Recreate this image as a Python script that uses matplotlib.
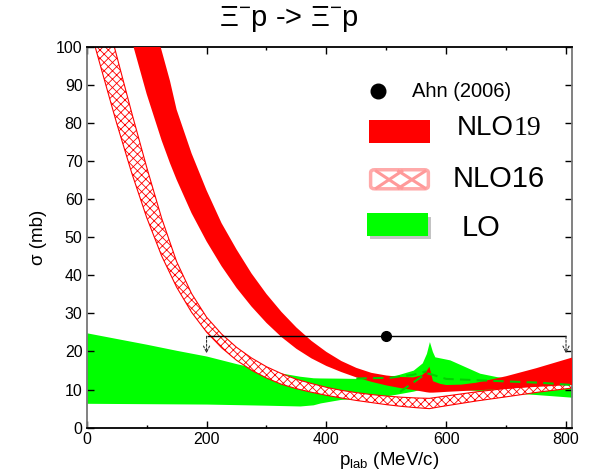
import matplotlib
matplotlib.use("Agg")
import matplotlib.pyplot as plt
from matplotlib.patches import Rectangle, FancyBboxPatch
import numpy as np

plt.rcParams["font.family"] = ["Liberation Sans", "DejaVu Sans"]
plt.rcParams["mathtext.fontset"] = "custom"
plt.rcParams["mathtext.rm"] = "Liberation Sans"
plt.rcParams["mathtext.it"] = "Liberation Sans:italic"
plt.rcParams["hatch.linewidth"] = 0.6

# NLO19 band (red)
nlo19_x = [60, 78, 100, 125, 139, 150, 175, 200, 225, 250, 275, 300, 325, 350,
           375, 400, 425, 450, 475, 500, 525, 545, 560, 567, 572, 578, 590,
           600, 625, 650, 700, 750, 810]
nlo19_lo = [111.3, 100, 87.6, 75.4, 69.4, 65.1, 56.3, 48.9, 42.4, 36.7, 31.8,
            27.5, 23.8, 20.7, 18.2, 16.2, 14.6, 13.2, 12.05, 11.1, 10.35, 9.9,
            9.5, 9.3, 9.2, 9.2, 9.3, 9.4, 9.6, 9.8, 10.2, 10.7, 11.2]
nlo19_hi = [139, 127, 112.6, 99, 91, 83.5, 72.0, 62.3, 53.7, 46.8, 40.5, 35.1,
            30.4, 26.3, 22.8, 19.9, 17.5, 15.7, 14.4, 13.7, 13.3, 13.2, 13.8,
            14.8, 16.0, 12.2, 11.5, 11.2, 11.3, 11.8, 13.5, 15.6, 18.4]

# NLO16 band (hatched)
nlo16_x = [0, 14, 25, 46, 50, 75, 100, 125, 150, 175, 200, 225, 250, 275, 300,
           325, 350, 375, 400, 425, 450, 475, 500, 525, 550, 572, 590, 650,
           700, 757, 810]
nlo16_lo = [108, 100, 93.8, 82.1, 79.9, 66.9, 55.2, 45.1, 36.9, 30.3, 25.1,
            21.0, 17.7, 15.1, 13.05, 11.4, 10.24, 9.3, 8.5, 7.8, 7.15, 6.6,
            6.05, 5.6, 5.25, 5.0, 5.5, 7.0, 8.1, 9.4, 10.4]
nlo16_hi = [128, 112.7, 106, 100, 97.6, 82.7, 68.4, 55.0, 43.6, 35.2, 29.0,
            24.6, 21.1, 18.3, 16.0, 14.2, 12.7, 11.6, 10.6, 9.8, 9.2, 8.7,
            8.3, 8.0, 7.8, 7.7, 8.1, 9.4, 10.3, 11.2, 11.8]

# LO band (green)
lo_x = [0, 50, 100, 150, 200, 250, 300, 356, 378, 390, 423, 462, 490, 517,
        545, 560, 567, 572, 577, 581, 606, 656, 684, 750, 810]
lo_lo = [6.4, 6.35, 6.3, 6.25, 6.2, 6.05, 5.9, 5.7, 6.0, 6.5, 7.4, 7.8, 8.1,
         8.8, 9.6, 10.2, 10.6, 11.0, 10.8, 10.6, 10.3, 9.7, 9.4, 8.7, 8.0]
lo_hi = [24.9, 23.4, 21.9, 20.3, 18.8, 16.8, 15.0, 13.5, 13.1, 13.05, 13.0,
         12.9, 13.2, 13.8, 15.1, 17.0, 19.5, 22.6, 20.0, 18.6, 17.8, 14.3,
         13.4, 12.0, 10.8]

# green dashed curve
dash_a_x = [450, 506, 545, 567]
dash_a_y = [12.9, 13.1, 13.9, 14.8]
dash_b_x = [523, 567, 575, 600, 645, 757, 810]
dash_b_y = [9.4, 14.3, 14.0, 12.8, 12.5, 11.8, 11.2]

# Ahn (2006) data point with momentum range
ahn_x = [500]
ahn_y = [24]
ahn_xmin = [200]
ahn_xmax = [800]
ahn_ylow = 19.5

fig = plt.figure(figsize=(5.9, 4.73), dpi=100)
ax = fig.add_axes([0.147, 0.0958, 0.8225, 0.8055])

ax.fill_between(lo_x, lo_lo, lo_hi, color="#00ff00", linewidth=0, zorder=1)
ax.fill_between(nlo16_x, nlo16_lo, nlo16_hi, facecolor="white",
                edgecolor="red", hatch="xxxx", linewidth=0, zorder=2)
ax.plot(nlo16_x, nlo16_lo, color="red", lw=0.8, zorder=2.1)
ax.plot(nlo16_x, nlo16_hi, color="red", lw=0.8, zorder=2.1)
ax.fill_between(nlo19_x, nlo19_lo, nlo19_hi, color="#ff0000", linewidth=0, zorder=3)
ax.plot(dash_a_x, dash_a_y, color="#00d000", lw=1.5, ls=(0, (5, 3)), zorder=4)
ax.plot(dash_b_x, dash_b_y, color="#00d000", lw=1.5, ls=(0, (5, 3)), zorder=4)

ax.hlines(ahn_y, ahn_xmin, ahn_xmax, color="black", lw=1.0, zorder=5)
for xm in ahn_xmin + ahn_xmax:
    ax.annotate("", xy=(xm, ahn_ylow), xytext=(xm, ahn_y[0]),
                arrowprops=dict(arrowstyle="->", ls=(0, (2, 1.5)), lw=0.8,
                                color="#333333", shrinkA=0, shrinkB=0,
                                mutation_scale=11), zorder=5)
ax.plot(ahn_x, ahn_y, "o", color="black", ms=7, zorder=6)

ax.set_xlim(0, 810)
ax.set_ylim(0, 100)
ax.set_xticks([0, 200, 400, 600, 800])
ax.set_xticks([100, 300, 500, 700], minor=True)
ax.set_yticks(np.arange(0, 101, 10))
ax.tick_params(which="both", direction="in", top=True, right=True,
               labelsize=11.5, width=1.0)
ax.tick_params(which="major", length=5)
ax.tick_params(which="minor", length=2.5)
ax.tick_params(axis="y", pad=3)
ax.tick_params(axis="x", pad=3)
for side in ["left", "right"]:
    ax.spines[side].set_color("#777777")
    ax.spines[side].set_linewidth(1.3)
for side in ["top", "bottom"]:
    ax.spines[side].set_color("black")
    ax.spines[side].set_linewidth(1.3)

ax.set_xlabel(r"p$_{\rm lab}$ (MeV/c)", fontsize=13.5)
ax.xaxis.set_label_coords(0.623, -0.058)
ax.set_ylabel("σ (mb)", fontsize=13.5)
ax.yaxis.set_label_coords(-0.082, 0.5)

fig.text(0.489, 0.945, r"$\Xi^{-}$p -> $\Xi^{-}$p", fontsize=21,
         ha="center", va="baseline")

# hand-made legend
T = ax.transAxes
ax.plot([0.601], [0.883], "o", color="black", ms=10.5, transform=T,
        clip_on=False, zorder=7)
ax.text(0.670, 0.883, "Ahn (2006)", transform=T, fontsize=14.5,
        va="center", ha="left")

ax.add_patch(Rectangle((0.582, 0.748), 0.125, 0.059, transform=T,
                       facecolor="#ff0000", edgecolor="none", zorder=7))
t19 = ax.text(0.762, 0.786, "NLO", transform=T, fontsize=20,
              va="center", ha="left")
ax.annotate("19", xy=(1, 0), xycoords=t19, fontsize=20, va="bottom",
            ha="left", family="Liberation Serif")

ax.add_patch(FancyBboxPatch((0.585, 0.627), 0.119, 0.050, transform=T,
                            boxstyle="round,pad=0.0,rounding_size=0.008",
                            facecolor="white", edgecolor="#ffaaaa", lw=2.5,
                            zorder=7))
for x0, x1 in [(0.597, 0.649), (0.643, 0.697)]:
    ax.plot([x0, x1], [0.673, 0.629], color="#ff9999", lw=2.2, transform=T, zorder=8)
    ax.plot([x0, x1], [0.629, 0.673], color="#ff9999", lw=2.2, transform=T, zorder=8)
ax.text(0.755, 0.653, "NLO16", transform=T, fontsize=21, va="center", ha="left")

ax.add_patch(Rectangle((0.583, 0.494), 0.126, 0.060, transform=T,
                       facecolor="#888888", alpha=0.5, edgecolor="none", zorder=7))
ax.add_patch(Rectangle((0.577, 0.504), 0.126, 0.060, transform=T,
                       facecolor="#00ff00", edgecolor="none", zorder=7.5))
ax.text(0.773, 0.524, "LO", transform=T, fontsize=21, va="center", ha="left")

fig.savefig("out.png", dpi=100)
